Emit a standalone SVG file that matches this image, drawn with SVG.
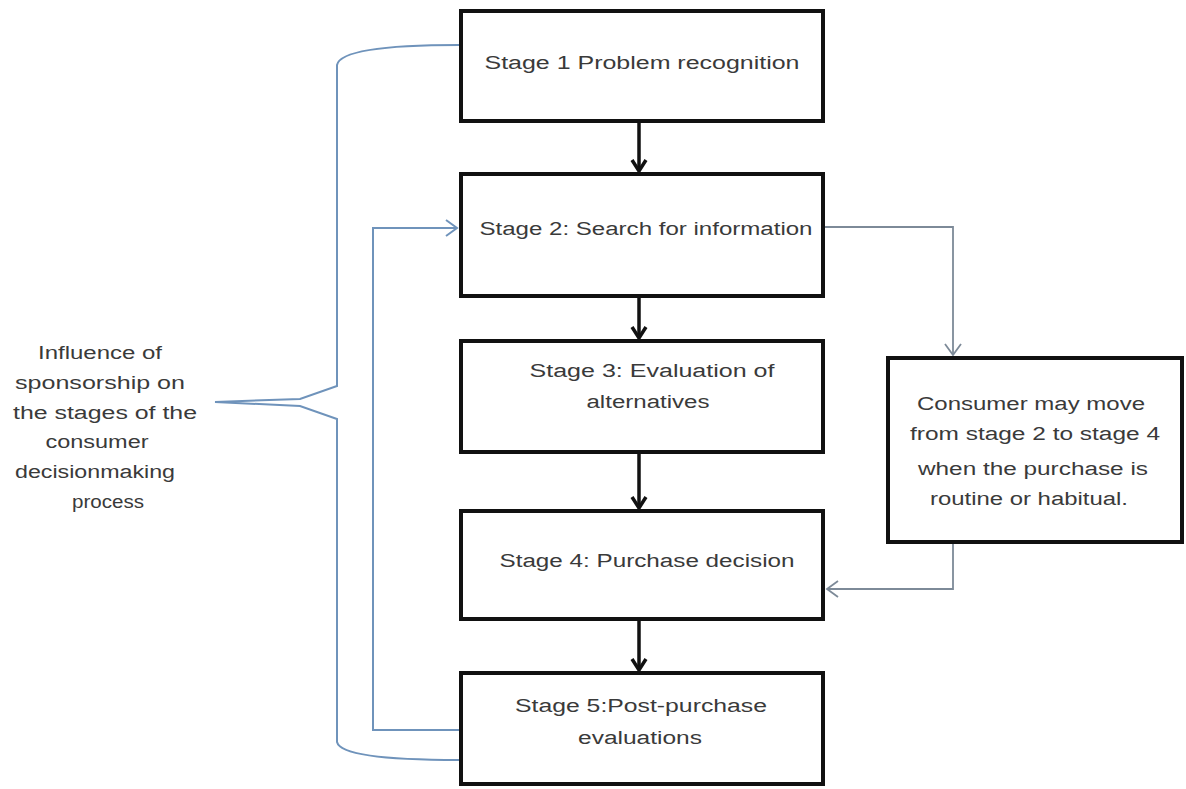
<svg xmlns="http://www.w3.org/2000/svg" width="1186" height="789" viewBox="0 0 1186 789">
<defs>
<style>
.box{fill:#fff;stroke:#111;stroke-width:4}
.t{font-family:"Liberation Sans",Arial,sans-serif;font-size:18px;fill:#3a3a3a;text-anchor:middle}
.blk{stroke:#111;stroke-width:3.5;fill:none}
.gry{stroke:#7d8a98;stroke-width:1.8;fill:none}
.blu{stroke:#6f93bb;stroke-width:2;fill:none}
</style>
<marker id="ab" markerWidth="16" markerHeight="18" refX="13" refY="9" orient="auto" markerUnits="userSpaceOnUse" viewBox="0 0 16 18">
<path d="M2,2 L13,9 L2,16" fill="none" stroke="#111" stroke-width="3.5" stroke-linejoin="miter"/>
</marker>
</defs>
<rect width="1186" height="789" fill="#fff"/>
<g id="connectors">
<path class="blk" d="M639,123 V171" marker-end="url(#ab)"/>
<path class="blk" d="M639,298 V338" marker-end="url(#ab)"/>
<path class="blk" d="M639,454 V508" marker-end="url(#ab)"/>
<path class="blk" d="M639,621 V670" marker-end="url(#ab)"/>
<path class="gry" d="M825,227 H953 V354"/>
<path class="gry" d="M945,344 L953,355 L961,344"/>
<path class="gry" d="M953,544 V589 H827"/>
<path class="gry" d="M838,581 L827,589 L838,597"/>
<path class="blu" d="M459,730 H373 V228 H457"/>
<path class="blu" d="M446,220 L457,228 L446,236"/>
<path class="blu" d="M459,45 C390,45 340,50 337,65 V386 L300,399 L215,402 L300,406 L337,419 V742 C340,755 390,760 459,760"/>
</g>
<g id="stage1">
<rect class="box" x="461" y="11" width="362" height="110"/>
<text class="t" x="642" y="69" textLength="315" lengthAdjust="spacingAndGlyphs">Stage 1  Problem recognition</text>
</g>
<g id="stage2">
<rect class="box" x="461" y="174" width="362" height="122"/>
<text class="t" x="646" y="235" textLength="333" lengthAdjust="spacingAndGlyphs">Stage 2: Search for information</text>
</g>
<g id="stage3">
<rect class="box" x="461" y="341" width="362" height="111"/>
<text class="t" x="652" y="377" textLength="245" lengthAdjust="spacingAndGlyphs">Stage 3: Evaluation of</text>
<text class="t" x="648" y="408" textLength="123" lengthAdjust="spacingAndGlyphs">alternatives</text>
</g>
<g id="stage4">
<rect class="box" x="461" y="511" width="362" height="108"/>
<text class="t" x="647" y="567" textLength="295" lengthAdjust="spacingAndGlyphs">Stage 4: Purchase decision</text>
</g>
<g id="stage5">
<rect class="box" x="461" y="673" width="362" height="111"/>
<text class="t" x="641" y="712" textLength="252" lengthAdjust="spacingAndGlyphs">Stage 5:Post-purchase</text>
<text class="t" x="640" y="744" textLength="124" lengthAdjust="spacingAndGlyphs">evaluations</text>
</g>
<g id="note">
<rect class="box" x="888" y="358" width="294" height="184"/>
<text class="t" x="1031" y="410" textLength="228" lengthAdjust="spacingAndGlyphs">Consumer may move</text>
<text class="t" x="1035" y="440" textLength="250" lengthAdjust="spacingAndGlyphs">from stage 2 to stage 4</text>
<text class="t" x="1033" y="475" textLength="230" lengthAdjust="spacingAndGlyphs">when the purchase is</text>
<text class="t" x="1029" y="505" textLength="198" lengthAdjust="spacingAndGlyphs">routine or habitual.</text>
</g>
<g id="influence">
<text class="t" x="100" y="359" textLength="124" lengthAdjust="spacingAndGlyphs">Influence of</text>
<text class="t" x="100" y="389" textLength="170" lengthAdjust="spacingAndGlyphs">sponsorship on</text>
<text class="t" x="105" y="419" textLength="184" lengthAdjust="spacingAndGlyphs">the stages of the</text>
<text class="t" x="97" y="448" textLength="103" lengthAdjust="spacingAndGlyphs">consumer</text>
<text class="t" x="95" y="478" textLength="160" lengthAdjust="spacingAndGlyphs">decisionmaking</text>
<text class="t" x="108" y="508" textLength="72" lengthAdjust="spacingAndGlyphs">process</text>
</g>
</svg>
